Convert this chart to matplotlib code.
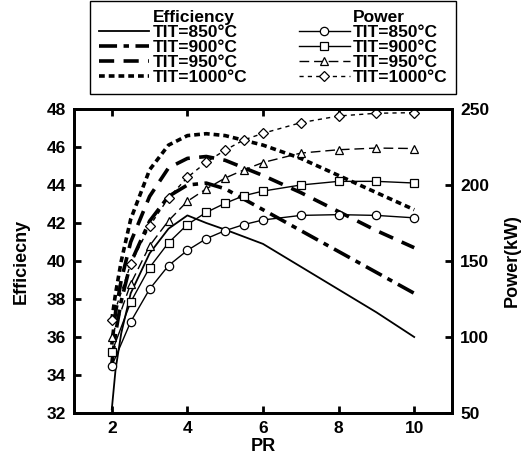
import matplotlib
matplotlib.use("Agg")
import matplotlib.pyplot as plt
from matplotlib.lines import Line2D

plt.rcParams['font.family'] = ['Liberation Sans', 'DejaVu Sans']
plt.rcParams['font.weight'] = 'bold'

# ---- data ----
pr_eff = [2, 2.1, 2.25, 2.5, 3, 3.5, 4, 4.5, 5, 6, 7, 8, 9, 10]
eff_850 = [32.2, 34.3, 36.2, 38.3, 40.4, 41.7, 42.4, 42.0, 41.65, 40.9, 39.7, 38.5, 37.3, 36.0]
eff_900 = [34.6, 36.2, 37.9, 39.9, 42.1, 43.4, 44.0, 44.1, 43.8, 42.7, 41.6, 40.5, 39.4, 38.3]
eff_950 = [35.6, 37.3, 39.0, 41.0, 43.4, 44.9, 45.4, 45.5, 45.3, 44.5, 43.6, 42.6, 41.6, 40.7]
eff_1000 = [36.9, 38.3, 40.0, 42.2, 44.8, 46.1, 46.6, 46.7, 46.6, 46.1, 45.4, 44.5, 43.6, 42.7]

pr_pow = [2, 2.5, 3, 3.5, 4, 4.5, 5, 5.5, 6, 7, 8, 9, 10]
pow_850 = [81, 110, 131.5, 147, 157, 164.7, 170, 174, 177, 180, 180.5, 180, 178.4]
pow_900 = [90, 123, 145.7, 162, 174, 182, 188, 193, 196, 200, 202.4, 202.4, 201.3]
pow_950 = [100, 135, 160, 176.5, 189.3, 197.5, 204.6, 210, 214.8, 221, 223.2, 224.3, 224]
pow_1000 = [111, 148, 173, 191.5, 205, 215, 223, 229.7, 234, 241, 245.4, 247.2, 247.6]

tit_labels = ['TIT=850°C', 'TIT=900°C', 'TIT=950°C', 'TIT=1000°C']
x_ticks = [2, 4, 6, 8, 10]
eff_ticks = [32, 34, 36, 38, 40, 42, 44, 46, 48]
pow_ticks = [50, 100, 150, 200, 250]

W, H = 523, 455
fig = plt.figure(figsize=(W / 100, H / 100), dpi=100)
ax = fig.add_axes([74 / W, 1 - 413 / H, (452 - 74) / W, (413 - 109) / H])
ax2 = ax.twinx()

eff_styles = [
    dict(ls='-', lw=1.3),
    dict(ls=(0, (5, 1.8, 1.5, 1.8)), lw=2.6),
    dict(ls=(0, (4.2, 2.6)), lw=2.6),
    dict(ls=(0, (1.6, 1.1)), lw=2.6),
]
effs = [eff_850, eff_900, eff_950, eff_1000]
eff_handles = []
for e, st, lab in zip(effs, eff_styles, tit_labels):
    h, = ax.plot(pr_eff, e, color='black', label=lab, dash_capstyle='butt', **st)
    eff_handles.append(h)

pow_styles = [
    dict(ls='-', marker='o'),
    dict(ls='-', marker='s'),
    dict(ls=(0, (7, 3.5)), marker='^'),
    dict(ls=(0, (3, 3)), marker='D'),
]
pows = [pow_850, pow_900, pow_950, pow_1000]
pow_handles = []
for p, st, lab in zip(pows, pow_styles, tit_labels):
    ms = 5.0 if st['marker'] == 'D' else 6.0
    h, = ax2.plot(pr_pow, p, color='black', lw=1.0, ms=ms, mfc='white', mec='black',
                  mew=0.9, label=lab, **st)
    pow_handles.append(h)

ax.set_xlim(1, 11)
ax.set_ylim(32, 48)
ax2.set_ylim(50, 250)
ax.set_xticks(x_ticks)
ax.set_yticks(eff_ticks)
ax2.set_yticks(pow_ticks)

for a in (ax, ax2):
    for s in a.spines.values():
        s.set_linewidth(2.0)
ax.tick_params(axis='both', direction='in', length=5, width=2, labelsize=12.5,
               top=True, right=False, pad=6)
ax2.tick_params(axis='y', direction='in', length=5, width=2, labelsize=12.5, pad=6)
for lab in ax.get_xticklabels() + ax.get_yticklabels() + ax2.get_yticklabels():
    lab.set_fontweight('bold')

ax.set_xlabel('PR', fontsize=13, fontweight='bold', labelpad=1)
ax.set_ylabel('Efficiecny', fontsize=13, fontweight='bold', labelpad=12)
ax2.set_ylabel('Power(kW)', fontsize=13, fontweight='bold', labelpad=10)

blank = Line2D([], [], color='none')
handles = [blank] + eff_handles + [blank] + pow_handles
labels = ['Efficiency'] + tit_labels + ['Power'] + tit_labels
leg = fig.legend(handles, labels, ncol=2, loc='upper left',
                 bbox_to_anchor=(90 / W, 1 - 1 / H),
                 prop={'weight': 'bold', 'size': 12.5},
                 frameon=True, fancybox=False, edgecolor='black', framealpha=1,
                 handlelength=2.9, handletextpad=0.2, columnspacing=3.0,
                 labelspacing=0.0, borderpad=0.5, borderaxespad=0)
leg.get_frame().set_linewidth(1.0)

fig.savefig('out.png', dpi=100)
